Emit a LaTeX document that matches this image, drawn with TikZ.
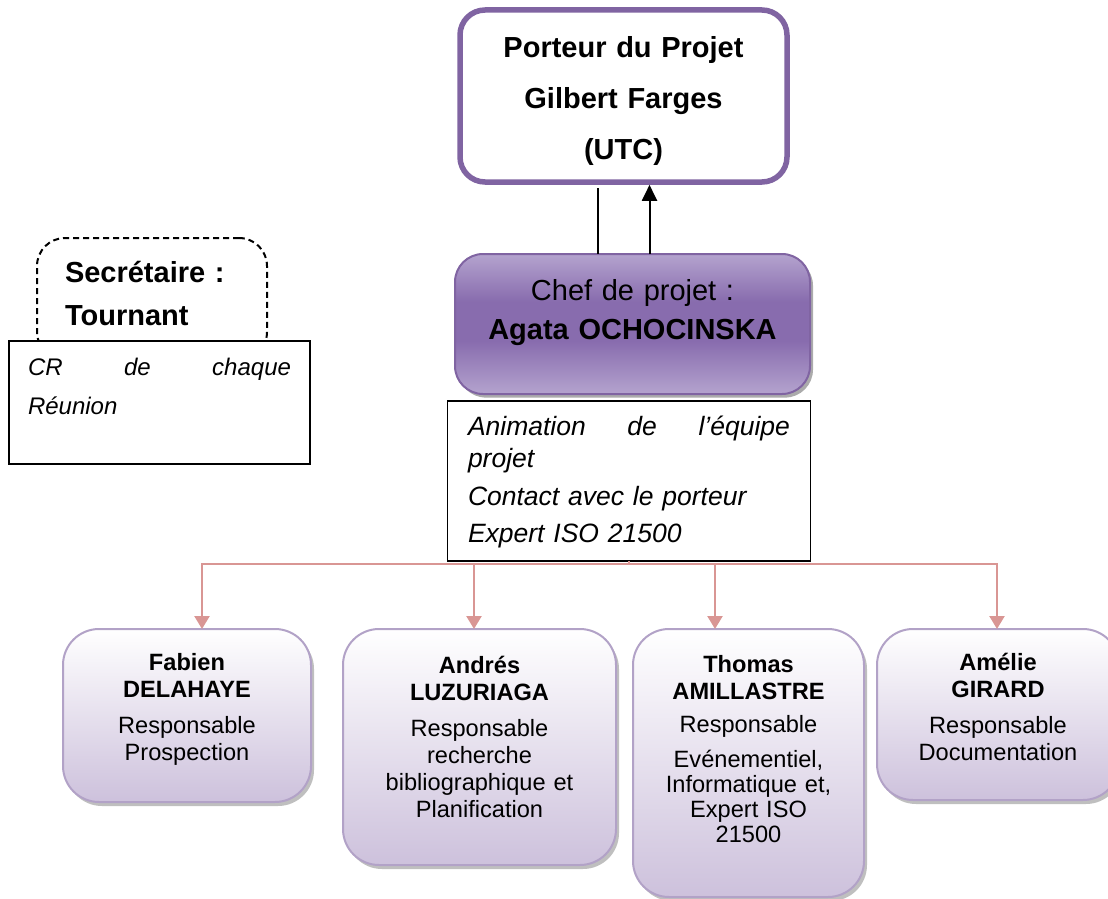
\documentclass[tikz,border=0pt]{standalone}
\usepackage{fontspec}
\setmainfont{Liberation Sans}
\usepackage{xcolor}
\usepackage{tikz}
\usetikzlibrary{positioning,shadows,backgrounds,arrows.meta}
\definecolor{purpline}{RGB}{128,100,162}
\definecolor{cheflight}{RGB}{180,163,206}
\definecolor{chefdark}{RGB}{136,108,174}
\definecolor{memline}{RGB}{178,162,199}
\definecolor{memfill}{RGB}{205,193,220}
\definecolor{linkpink}{RGB}{217,150,148}
\pgfdeclareverticalshading{chefshade}{100bp}{color(0bp)=(cheflight); color(25bp)=(cheflight); color(44bp)=(chefdark); color(58bp)=(chefdark); color(75bp)=(cheflight); color(100bp)=(cheflight)}

\begin{document}
\begin{tikzpicture}[
  x=0.5pt,y=-0.5pt,
  porteurbox/.style={rectangle,draw=purpline,line width=2.75pt,fill=white,rounded corners=12.5pt,outer sep=0pt,minimum width=163.5pt,text width=155pt,align=center,inner ysep=0pt,font=\fontsize{14.5}{25.5}\selectfont\bfseries},
  chefbox/.style={rectangle,draw=purpline,line width=1pt,rounded corners=14pt,outer sep=0pt,shade,shading=chefshade,drop shadow={shadow xshift=1.5pt,shadow yshift=-1.8pt,fill=black!55,opacity=.6},minimum width=177.5pt,text width=170pt,align=center,inner ysep=0pt,font=\fontsize{14.5}{19.5}\selectfont},
  taskbox/.style={rectangle,draw=black,line width=0.8pt,fill=white,outer sep=0pt,align=left,inner ysep=0pt},
  secbox/.style={rectangle,draw=black,line width=1pt,dash pattern=on 3pt off 2pt,rounded corners=14pt,outer sep=0pt,minimum width=115pt,text width=87pt,align=left,inner ysep=0pt,font=\fontsize{14.5}{21.5}\selectfont\bfseries},
  member/.style={rectangle,draw=memline,line width=1pt,rounded corners=18pt,outer sep=0pt,top color=white,bottom color=memfill,drop shadow={shadow xshift=1.5pt,shadow yshift=-2pt,fill=black!50,opacity=.5},align=center,inner xsep=6pt,inner ysep=0pt,text height=20.5pt,font=\fontsize{11.8}{13.5}\selectfont},
  wire/.style={draw=black,line width=1pt},
  link/.style={draw=linkpink,line width=1.2pt,-{Triangle[width=7.5pt,length=6.5pt]}}
]
\useasboundingbox (0,0) rectangle (1108,899);

\node[porteurbox,anchor=north,text height=24pt,text depth=62pt] (porteur) at (623.5,10) {Porteur du Projet\\ Gilbert Farges\\ (UTC)};
\node[chefbox,below=36pt of porteur,xshift=4.5pt,text height=23pt,text depth=47pt] (chef) {Chef de projet :\\ \textbf{Agata OCHOCINSKA}};
\node[taskbox,below=3.5pt of chef,xshift=-1.75pt,minimum width=181.5pt,text width=161pt,text height=17pt,text depth=63pt,font=\fontsize{13.25}{16}\selectfont\itshape] (desc) {Animation\hfill de\hfill l’équipe\\ projet\\[3pt] Contact avec le porteur\\[2.5pt] Expert ISO 21500};

\draw[wire] ([xshift=-13pt,yshift=-3pt]porteur.south) -- ([xshift=-13pt]porteur.south |- chef.north);
\draw[wire,-{Triangle[width=7.5pt,length=8pt]}] ([xshift=13pt]porteur.south |- chef.north) -- ([xshift=13pt,yshift=-1.4pt]porteur.south);

\node[secbox,anchor=north west,text height=22pt,text depth=39pt] (secr) at (37,238) {Secrétaire :\\ Tournant};
\node[taskbox,anchor=north west,minimum width=150.5pt,text width=131.5pt,text height=17pt,text depth=44.5pt,font=\fontsize{12}{19.5}\selectfont\itshape] (cr) at (9,341) {CR\hfill de\hfill chaque\\ Réunion};

\node[member,anchor=north,text width=112pt,text depth=66pt] (fabien) at (187,629) {\textbf{Fabien}\\ \textbf{DELAHAYE}\\[4.5pt] Responsable\\ Prospection};
\node[member,right=16pt of fabien.north east,anchor=north west,text width=124.5pt,text height=22pt,text depth=96pt] (andres) {\textbf{Andrés}\\ \textbf{LUZURIAGA}\\[4.5pt] Responsable\\ recherche\\ bibliographique et\\ Planification};
\node[member,right=8.5pt of andres.north east,anchor=north west,text width=103.5pt,text height=21.5pt,text depth=112.5pt] (thomas) {\textbf{Thomas}\\ \textbf{AMILLASTRE}\\[3pt] Responsable\\[4pt] Evénementiel,\\[-1pt] Informatique et,\\[-1pt] Expert ISO\\[-1pt] 21500};
\node[member,right=6.5pt of thomas.north east,anchor=north west,text width=109pt,text depth=65pt] (amelie) {\textbf{Amélie}\\ \textbf{GIRARD}\\[4.5pt] Responsable\\ Documentation};

\foreach \m/\dx in {fabien/7.5pt,andres/-2.75pt,thomas/-16.75pt,amelie/-0.5pt}
  \draw[link] (desc.south) -- ++(0,-1.5pt) -| ([xshift=\dx]\m.north);
\end{tikzpicture}
\end{document}
